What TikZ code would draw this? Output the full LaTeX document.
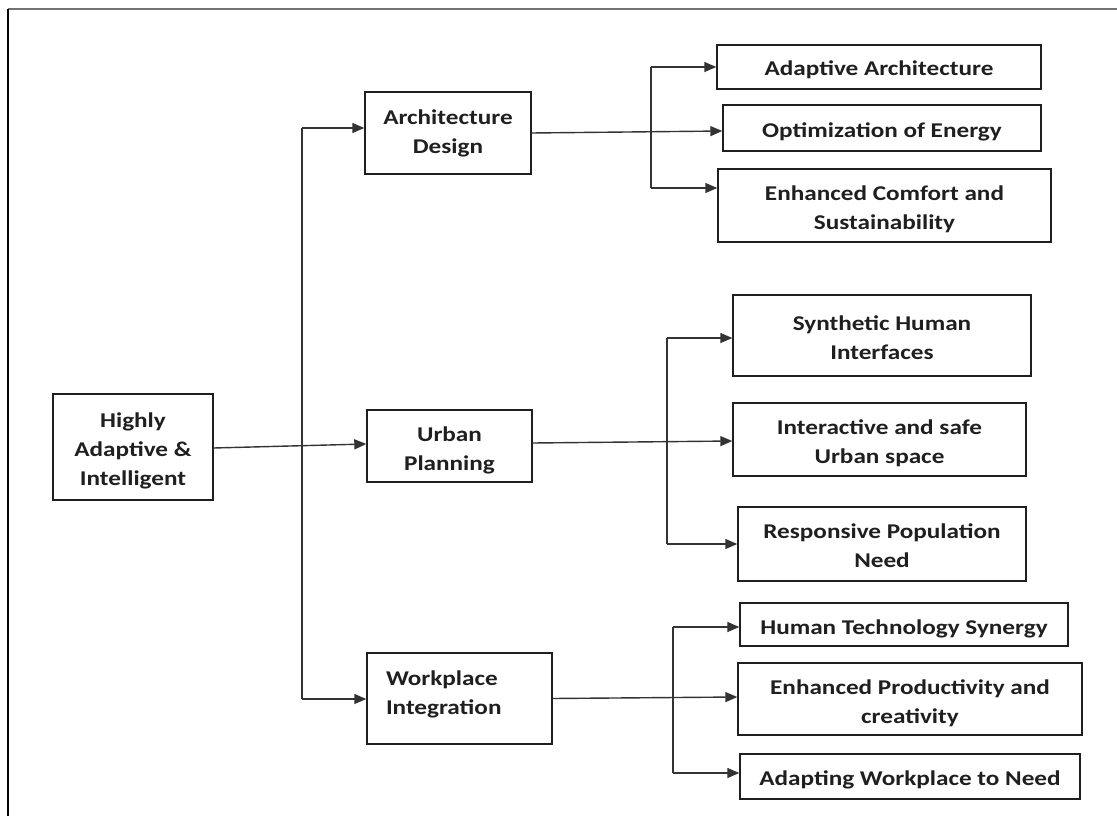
\documentclass[tikz,border=0pt]{standalone}
\usepackage{fontspec}
\setmainfont{Carlito}[FakeStretch=1.2]
\usetikzlibrary{arrows.meta,calc}

% centred lines of box text, lowered a little inside the box
\newcommand\ctext[2][-4pt]{\raisebox{#1}[\height][\depth]{%
  \begin{tabular}{@{}c@{}}#2\end{tabular}}}
% left-aligned lines of box text in a column of fixed width
\newcommand\ltext[3][0pt]{\raisebox{#1}[\height][\depth]{%
  \begin{tabular}{@{}p{#2}@{}}#3\end{tabular}}}

\tikzset{
  box/.style={draw=black!88, line width=1.4pt, inner sep=0pt,
              font=\bfseries\fontsize{21}{29}\selectfont, text=black!88},
  link/.style={draw=black!80, line width=1.4pt},
  arr/.style={link, -{Triangle[length=12pt,width=10pt]}},
}

\begin{document}
\begin{tikzpicture}[x=1pt,y=-1pt]
  \useasboundingbox (0,0) rectangle (1117,816);

  % outer frame (top and left edges)
  \draw[black!55, line width=2pt] (8,9) -- (1117,9);
  \draw[black, line width=1.5pt] (8,9) -- (8,816);

  % root and the three domains
  \node[box, minimum width=160, minimum height=106] (hi) at (133,447)
       {\ctext{Highly\\Adaptive \&\\Intelligent}};
  \node[box, minimum width=166, minimum height=82] (ad) at (448,133)
       {\ctext[0pt]{Architecture\\Design}};
  \node[box, minimum width=165, minimum height=72] (up) at (449.5,446)
       {\ctext{Urban\\Planning}};
  \node[box, minimum width=185, minimum height=91] (wi) at (459.5,698.5)
       {\ltext[4pt]{147pt}{Workplace\\Integration}};

  % architecture outcomes
  \node[box, minimum width=324, minimum height=44] (aa) at (879,67)
       {\ctext[-3pt]{Adaptive Architecture}};
  \node[box, minimum width=318, minimum height=46] (oe) at (882,128)
       {\ctext{Optimization of Energy}};
  \node[box, minimum width=333, minimum height=73] (ec) at (884.5,205.5)
       {\ctext{Enhanced Comfort and\\Sustainability}};

  % urban outcomes
  \node[box, minimum width=298, minimum height=81] (sh) at (882,335.5)
       {\ctext{Synthetic Human\\Interfaces}};
  \node[box, minimum width=293, minimum height=73] (ia) at (879.5,439.5)
       {\ctext{Interactive and safe\\Urban space}};
  \node[box, minimum width=288, minimum height=74] (rp) at (882,544)
       {\ctext[-3pt]{Responsive Population\\Need}};

  % workplace outcomes
  \node[box, minimum width=328, minimum height=43] (ht) at (904,624.5)
       {\ctext{Human Technology Synergy}};
  \node[box, minimum width=344, minimum height=72] (ep) at (910,699)
       {\ctext{Enhanced Productivity and\\creativity}};
  \node[box, minimum width=340, minimum height=45] (aw) at (910,776.5)
       {\ctext[-3pt]{Adapting Workplace to Need}};

  % main trunk
  \coordinate (t0a) at (302,128);
  \coordinate (t0b) at (302,699);
  \draw[link] (t0a) -- (t0b);
  \draw[arr] (t0a) -- (t0a -| ad.west);
  \draw[arr] (t0b) -- (t0b -| wi.west);
  \draw[arr] ($(hi.east)+(0,1)$) -- ($(up.west)+(0,-2)$);

  % architecture branch
  \coordinate (t1a) at (651,67);
  \coordinate (t1b) at (651,188);
  \draw[link] (t1a) -- (t1b);
  \draw[arr] (t1a) -- (t1a -| aa.west);
  \draw[arr] (t1b) -- (t1b -| ec.west);
  \draw[arr] (ad.east) -- ($(oe.west)+(0,3)$);

  % urban branch
  \coordinate (t2a) at (667,338);
  \coordinate (t2b) at (667,544);
  \draw[link] (t2a) -- (t2b);
  \draw[arr] (t2a) -- (t2a -| sh.west);
  \draw[arr] (t2b) -- (t2b -| rp.west);
  \draw[arr] ($(up.east)+(0,-3)$) -- ($(ia.west)+(0,1.5)$);

  % workplace branch
  \coordinate (t3a) at (673,627);
  \coordinate (t3b) at (673,773);
  \draw[link] (t3a) -- (t3b);
  \draw[arr] (t3a) -- (t3a -| ht.west);
  \draw[arr] (t3b) -- (t3b -| aw.west);
  \draw[arr] (wi.east) -- ($(ep.west)+(0,-2)$);
\end{tikzpicture}
\end{document}
